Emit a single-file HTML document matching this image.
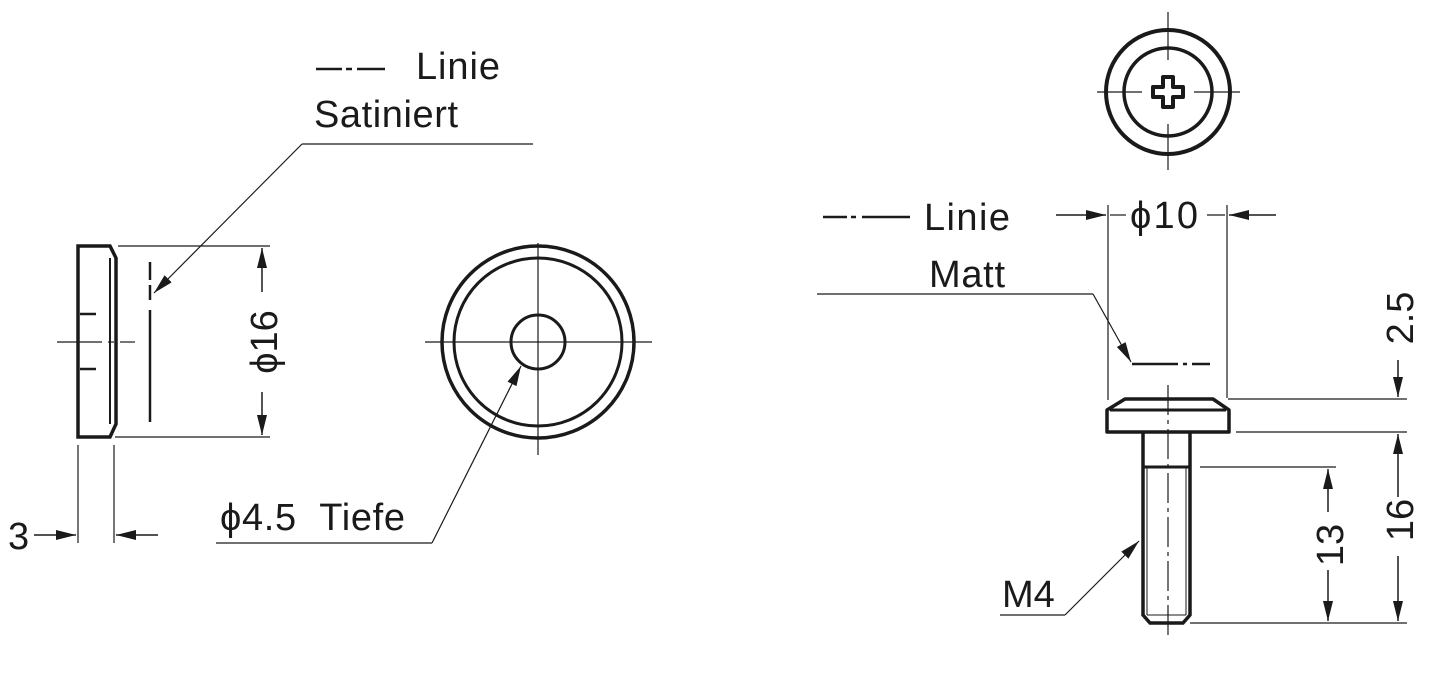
<!DOCTYPE html>
<html><head><meta charset="utf-8"><style>
html,body{margin:0;padding:0;background:#fff;width:1445px;height:674px;overflow:hidden}
svg{display:block}
text{font-family:"Liberation Sans",Arial,sans-serif;font-size:38px;fill:#1a1a1a;white-space:pre}
</style></head><body>
<svg width="1445" height="674" viewBox="0 0 1445 674" xmlns="http://www.w3.org/2000/svg">
<defs>
<marker id="a" viewBox="0 0 20 10" refX="20" refY="5" markerWidth="22" markerHeight="10" markerUnits="userSpaceOnUse" orient="auto"><path d="M0,0 L20,5 L0,10 Z" fill="#1a1a1a"/></marker>
</defs>
<g stroke="#1a1a1a" fill="none">
<path d="M78,246 H110 L116,258 V424 L110,437 H78 Z" stroke-width="3.5"/>
<line x1="110" y1="258" x2="110" y2="424" stroke-width="2"/>
<line x1="80" y1="314" x2="96" y2="314" stroke-width="2.5"/>
<line x1="80" y1="369" x2="96" y2="369" stroke-width="2.5"/>
<line x1="57" y1="342" x2="102" y2="342" stroke-width="1.2"/>
<line x1="108" y1="342" x2="114" y2="342" stroke-width="1.2"/>
<line x1="120" y1="342" x2="135" y2="342" stroke-width="1.2"/>
<line x1="150" y1="262" x2="150" y2="280" stroke-width="2.5"/>
<line x1="150" y1="285" x2="150" y2="300" stroke-width="2.5"/>
<line x1="150" y1="310" x2="150" y2="422" stroke-width="2.5"/>
<line x1="118" y1="246" x2="270" y2="246" stroke-width="1.2"/>
<line x1="115" y1="437" x2="270" y2="437" stroke-width="1.2"/>
<line x1="262" y1="292" x2="262" y2="248" stroke-width="1.5" marker-end="url(#a)"/>
<line x1="262" y1="392" x2="262" y2="435" stroke-width="1.5" marker-end="url(#a)"/>
<line x1="78" y1="445" x2="78" y2="543" stroke-width="1.2"/>
<line x1="114" y1="445" x2="114" y2="543" stroke-width="1.2"/>
<line x1="34" y1="535" x2="76" y2="535" stroke-width="1.5" marker-end="url(#a)"/>
<line x1="158" y1="535" x2="116" y2="535" stroke-width="1.5" marker-end="url(#a)"/>
<line x1="533" y1="144" x2="302" y2="144" stroke-width="1.2"/>
<line x1="302" y1="144" x2="154" y2="293" stroke-width="1.2" marker-end="url(#a)"/>
<line x1="316" y1="69" x2="342" y2="69" stroke-width="2.5"/>
<line x1="346" y1="69" x2="352" y2="69" stroke-width="2.5"/>
<line x1="357" y1="69" x2="385" y2="69" stroke-width="2.5"/>
<circle cx="538" cy="342" r="96" stroke-width="3.5"/>
<circle cx="538" cy="342" r="84" stroke-width="3"/>
<circle cx="538" cy="342" r="27" stroke-width="3"/>
<line x1="425" y1="342" x2="652" y2="342" stroke-width="1.2"/>
<line x1="538" y1="243" x2="538" y2="455" stroke-width="1.2"/>
<line x1="216" y1="543" x2="432" y2="543" stroke-width="1.2"/>
<line x1="432" y1="543" x2="521" y2="366" stroke-width="1.2" marker-end="url(#a)"/>
<circle cx="1168" cy="92" r="62" stroke-width="4"/>
<circle cx="1168" cy="92" r="44" stroke-width="3.5"/>
<path d="M1163,77 h10 v10 h10 v10 h-10 v10 h-10 v-10 h-10 v-10 h10 Z" stroke-width="4" stroke-linejoin="round"/>
<line x1="1097" y1="92" x2="1142" y2="92" stroke-width="1.2"/>
<line x1="1194" y1="92" x2="1240" y2="92" stroke-width="1.2"/>
<line x1="1168" y1="12" x2="1168" y2="60" stroke-width="1.2"/>
<line x1="1168" y1="124" x2="1168" y2="170" stroke-width="1.2"/>
<line x1="1108" y1="205" x2="1108" y2="400" stroke-width="1.2"/>
<line x1="1227" y1="205" x2="1227" y2="398" stroke-width="1.2"/>
<line x1="1056" y1="215" x2="1106" y2="215" stroke-width="1.5" marker-end="url(#a)"/>
<line x1="1276" y1="215" x2="1229" y2="215" stroke-width="1.5" marker-end="url(#a)"/>
<line x1="1110" y1="215" x2="1126" y2="215" stroke-width="1.2"/>
<line x1="1207" y1="215" x2="1225" y2="215" stroke-width="1.2"/>
<line x1="823" y1="217" x2="847" y2="217" stroke-width="2.5"/>
<line x1="851" y1="217" x2="856" y2="217" stroke-width="2.5"/>
<line x1="862" y1="217" x2="910" y2="217" stroke-width="2.5"/>
<line x1="817" y1="294" x2="1093" y2="294" stroke-width="1.2"/>
<line x1="1093" y1="294" x2="1131" y2="362" stroke-width="1.2" marker-end="url(#a)"/>
<line x1="1132" y1="364" x2="1178" y2="364" stroke-width="2.5"/>
<line x1="1183" y1="364" x2="1187" y2="364" stroke-width="2.5"/>
<line x1="1192" y1="364" x2="1210" y2="364" stroke-width="2.5"/>
<path d="M1107,410 L1125,399 H1213 L1229,410 V432 H1107 Z" stroke-width="3.5" stroke-linejoin="round"/>
<line x1="1110" y1="410" x2="1226" y2="410" stroke-width="3"/>
<path d="M1143,432 V615 L1150,623 H1183 L1190,615 V432" stroke-width="3.5"/>
<line x1="1143" y1="467" x2="1190" y2="467" stroke-width="3"/>
<line x1="1147" y1="467" x2="1147" y2="615" stroke-width="1"/>
<line x1="1186" y1="467" x2="1186" y2="615" stroke-width="1"/>
<line x1="1147" y1="615" x2="1186" y2="615" stroke-width="1"/>
<line x1="1168" y1="385" x2="1168" y2="640" stroke-width="1.2" stroke-dasharray="30,5,4,5"/>
<line x1="1228" y1="399" x2="1407" y2="399" stroke-width="1.2"/>
<line x1="1236" y1="432" x2="1407" y2="432" stroke-width="1.2"/>
<line x1="1200" y1="467" x2="1336" y2="467" stroke-width="1.2"/>
<line x1="1190" y1="623" x2="1407" y2="623" stroke-width="1.2"/>
<line x1="1398" y1="360" x2="1398" y2="397" stroke-width="1.5" marker-end="url(#a)"/>
<line x1="1398" y1="497" x2="1398" y2="434" stroke-width="1.5" marker-end="url(#a)"/>
<line x1="1398" y1="556" x2="1398" y2="621" stroke-width="1.5" marker-end="url(#a)"/>
<line x1="1328" y1="512" x2="1328" y2="469" stroke-width="1.5" marker-end="url(#a)"/>
<line x1="1328" y1="570" x2="1328" y2="621" stroke-width="1.5" marker-end="url(#a)"/>
<line x1="1000" y1="615" x2="1065" y2="615" stroke-width="1.2"/>
<line x1="1065" y1="615" x2="1139" y2="541" stroke-width="1.2" marker-end="url(#a)"/>
</g>
<text x="416" y="79" textLength="84">Linie</text>
<text x="314" y="127" textLength="144">Satiniert</text>
<text x="8" y="549">3</text>
<text transform="translate(277,342) rotate(-90)" text-anchor="middle">ϕ16</text>
<text x="220" y="530" textLength="185">ϕ4.5  Tiefe</text>
<text x="924" y="230" textLength="86">Linie</text>
<text x="929" y="287" textLength="76">Matt</text>
<text x="1130" y="228" textLength="68">ϕ10</text>
<text transform="translate(1413,318) rotate(-90)" text-anchor="middle">2.5</text>
<text transform="translate(1413,520) rotate(-90)" text-anchor="middle">16</text>
<text transform="translate(1343,545) rotate(-90)" text-anchor="middle">13</text>
<text x="1002" y="607">M4</text>
</svg>
</body></html>
